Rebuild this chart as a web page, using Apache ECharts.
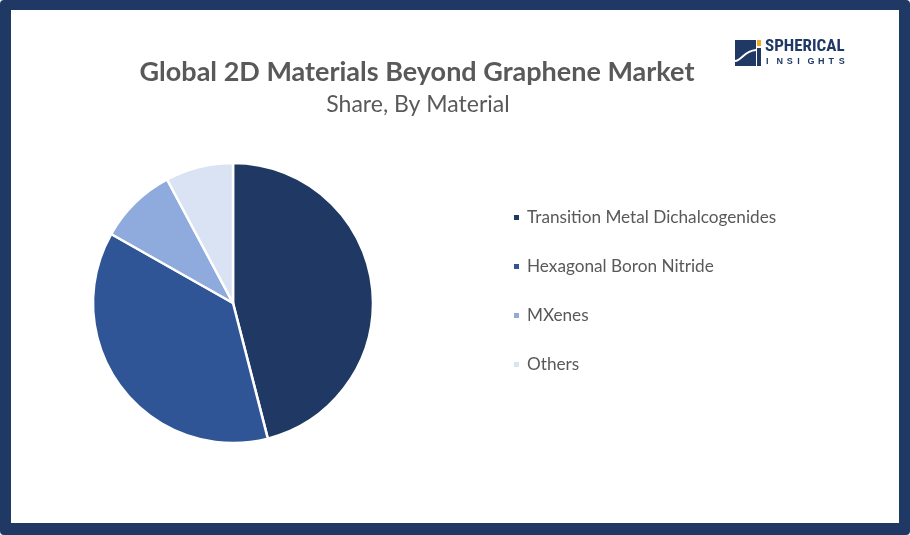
<!DOCTYPE html>
<html>
<head>
<meta charset="utf-8">
<script src="https://cdn.jsdelivr.net/npm/echarts@6/dist/echarts.min.js"></script>
<style>
html,body{margin:0;padding:0;background:#fff;}
#frame{position:absolute;left:0;top:0;width:910px;height:535px;box-sizing:border-box;border-style:solid;border-color:#1f3864;border-width:10px 11px 12px 11px;border-radius:4px;background:#fff;}
#chart{position:absolute;left:0;top:0;width:910px;height:535px;}
</style>
</head>
<body>
<div id="frame"></div>
<div id="chart"></div>
<script>
const titleText = "Global 2D Materials Beyond Graphene Market";
const subtitleText = "Share, By Material";
const categories = ["Transition Metal Dichalcogenides", "Hexagonal Boron Nitride", "MXenes", "Others"];
const shares = [46.0, 37.2, 9.0, 7.8];
const colors = ["#203864", "#2f5597", "#8faadc", "#dae3f3"];

const chart = echarts.init(document.getElementById('chart'), null, {renderer: 'canvas'});

const insights = "INSIGHTS".split("");
const logoLetters = insights.map((ch, i) => ({
  type: 'text', x: 766 + i * 10.4, y: 57,
  style: {text: ch, fill: '#1f3864', font: 'bold 9px "Liberation Sans", Arial, sans-serif'}
}));

chart.setOption({
  backgroundColor: 'transparent',
  animation: false,
  title: [
    {text: titleText, left: 412, top: 54, textAlign: 'center',
     textStyle: {color: '#595959', fontSize: 27, fontWeight: 'bold', fontFamily: 'Lato, "Open Sans", sans-serif'}},
    {text: subtitleText, left: 413, top: 88, textAlign: 'center',
     textStyle: {color: '#595959', fontSize: 23, fontWeight: 'normal', fontFamily: 'Lato, "Open Sans", sans-serif'}}
  ],
  legend: {
    orient: 'vertical', left: 512, top: 209, padding: 0,
    icon: 'rect', itemWidth: 7, itemHeight: 7, itemGap: 32.0,
    data: categories,
    textStyle: {color: '#595959', fontSize: 17.2, lineHeight: 16, fontFamily: 'Lato, "Open Sans", sans-serif', padding: [0,0,0,2]}
  },
  series: [{
    type: 'pie',
    center: [233, 303], radius: 140,
    startAngle: 90, clockwise: true,
    label: {show: false}, labelLine: {show: false},
    itemStyle: {borderColor: '#ffffff', borderWidth: 2.5},
    emphasis: {disabled: true},
    data: categories.map((c, i) => ({name: c, value: shares[i], itemStyle: {color: colors[i]}}))
  }],
  graphic: [
    {type: 'rect', shape: {x: 735, y: 40, width: 21, height: 26}, style: {fill: '#1f3864'}},
    {type: 'bezierCurve', shape: {x1: 735, y1: 61, cpx1: 742, cpy1: 60, cpx2: 744, cpy2: 51, x2: 756, y2: 50}, style: {stroke: '#ffffff', lineWidth: 2, fill: null}},
    {type: 'rect', shape: {x: 757, y: 40, width: 4, height: 6}, style: {fill: '#f5a623'}},
    {type: 'rect', shape: {x: 757, y: 48, width: 4, height: 18}, style: {fill: '#1f3864'}},
    {type: 'text', x: 765, y: 38, style: {text: 'SPHERICAL', fill: '#1f3864', font: 'bold 17px "Liberation Sans Narrow", "Roboto Condensed", Roboto, sans-serif'}}
  ].concat(logoLetters)
});
</script>
</body>
</html>
